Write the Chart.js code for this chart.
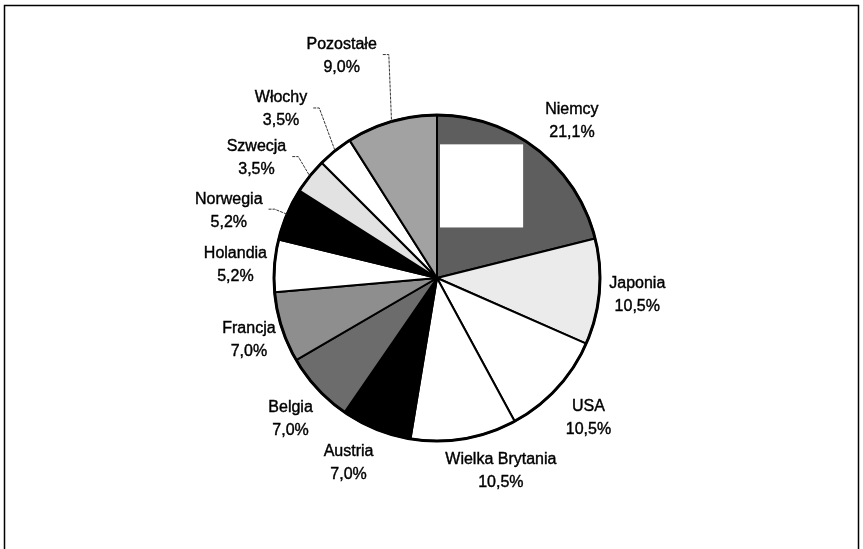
<!DOCTYPE html>
<html>
<head>
<meta charset="utf-8">
<script src="https://cdn.jsdelivr.net/npm/chart.js@4.4.1/dist/chart.umd.min.js"></script>
<style>
  html, body { margin: 0; padding: 0; background: #fff; }
  #wrap { width: 863px; height: 549px; position: relative; }
</style>
</head>
<body>
<div id="wrap"><canvas id="pie_cv"></canvas></div>
<script>
// dane
var kraje = ['Niemcy', 'Japonia', 'USA', 'Wielka Brytania', 'Austria', 'Belgia',
  'Francja', 'Holandia', 'Norwegia', 'Szwecja', 'Włochy', 'Pozostałe'];
var udzialy = [21.1, 10.5, 10.5, 10.5, 7.0, 7.0, 7.0, 5.2, 5.2, 3.5, 3.5, 9.0];
var kolory = ['#5e5e5e', '#ebebeb', '#ffffff', '#ffffff', '#000000', '#6c6c6c',
  '#8e8e8e', '#ffffff', '#000000', '#e2e2e2', '#ffffff', '#a2a2a2'];

// przesuniecia etykiet (stopnie, px) - etykiety przeciagniete recznie w oryginale
var labelNudge = [[2.7, 44], [0, 38], [0, 43], [-8.8, 40], [3.6, 42], [-1, 40],
  [-0.6, 35], [-0.6, 39], [-5, 56], [-5, 54], [-4, 67], [-7, 79]];

var framePlugin = {
  id: 'frame',
  beforeDraw: function (chart) {
    var ctx = chart.ctx;
    ctx.save();
    ctx.fillStyle = '#fff';
    ctx.fillRect(0, 0, chart.width, chart.height);
    ctx.strokeStyle = '#000';
    ctx.lineWidth = 1.5;
    ctx.strokeRect(4.5, 5.5, chart.width - 9, chart.height + 20);
    ctx.restore();
  }
};

var labelPlugin = {
  id: 'etykiety',
  afterDatasetsDraw: function (chart) {
    var ctx = chart.ctx;
    var meta = chart.getDatasetMeta(0);
    ctx.save();
    // biały prostokąt w wycinku Niemcy
    var a0 = meta.data[0];
    var r0 = a0.outerRadius;
    ctx.fillStyle = '#fff';
    ctx.fillRect(a0.x + 3, a0.y - r0 * 0.82, r0 * 0.51, r0 * 0.51);
    ctx.strokeStyle = '#000';
    ctx.lineWidth = 2;
    ctx.beginPath();
    ctx.moveTo(a0.x, a0.y);
    ctx.lineTo(a0.x, a0.y - r0);
    ctx.stroke();
    // grubszy obrys kola
    ctx.lineWidth = 3;
    ctx.beginPath();
    ctx.arc(a0.x, a0.y, r0, 0, Math.PI * 2);
    ctx.stroke();

    ctx.font = '16px "Liberation Sans", Arial, sans-serif';
    ctx.textAlign = 'center';
    ctx.textBaseline = 'middle';
    meta.data.forEach(function (el, i) {
      var mid = (el.startAngle + el.endAngle) / 2 + labelNudge[i][0] * Math.PI / 180;
      var R = el.outerRadius + labelNudge[i][1];
      var x = el.x + R * Math.cos(mid);
      var y = el.y + R * Math.sin(mid);
      var name = chart.data.labels[i];
      var val = udzialy[i].toFixed(1).replace('.', ',') + '%';
      ctx.fillStyle = '#000';
      ctx.strokeStyle = '#000';
      ctx.lineWidth = 0.4;
      ctx.fillText(name, x, y - 11);
      ctx.strokeText(name, x, y - 11);
      ctx.fillText(val, x, y + 12);
      ctx.strokeText(val, x, y + 12);
      if (labelNudge[i][1] > 50) {
        var w = ctx.measureText(name).width;
        var emid = (el.startAngle + el.endAngle) / 2;
        var ex = el.x + el.outerRadius * Math.cos(emid);
        var ey = el.y + el.outerRadius * Math.sin(emid);
        var sx = x + w / 2 + 6;
        ctx.strokeStyle = '#333';
        ctx.lineWidth = 1;
        ctx.setLineDash([3, 1]);
        ctx.beginPath();
        ctx.moveTo(sx, y - 1);
        ctx.lineTo(sx + 6, y - 1);
        ctx.lineTo(ex, ey);
        ctx.stroke();
        ctx.setLineDash([]);
      }
    });
    ctx.restore();
  }
};

var chart = new Chart(document.getElementById('pie_cv'), {
  type: 'pie',
  data: {
    labels: kraje,
    datasets: [{
      data: udzialy,
      backgroundColor: kolory,
      borderColor: '#000',
      borderWidth: 2
    }]
  },
  options: {
    responsive: true,
    maintainAspectRatio: false,
    animation: false,
    layout: { padding: { top: 114, bottom: 107, left: 273, right: 262 } },
    plugins: {
      legend: { display: false },
      tooltip: { enabled: false }
    }
  },
  plugins: [framePlugin, labelPlugin]
});
</script>
</body>
</html>
